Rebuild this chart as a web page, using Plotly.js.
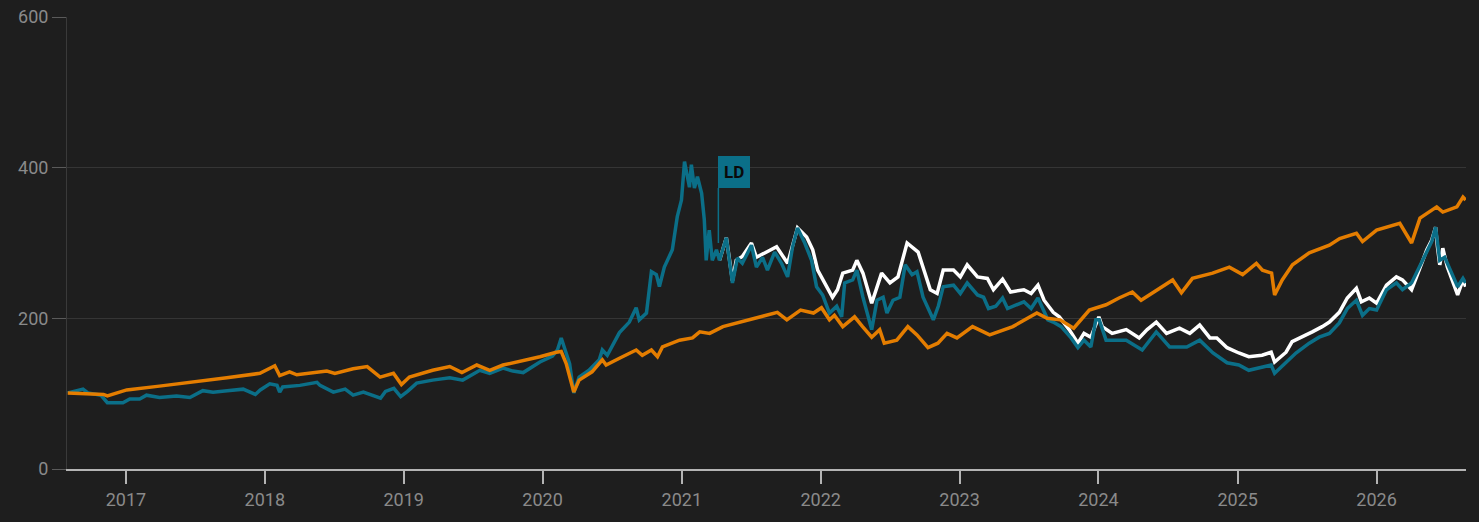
<!DOCTYPE html>
<html>
<head>
<meta charset="utf-8">
<script src="https://cdn.plot.ly/plotly-3.0.1.min.js"></script>
<style>
html,body{margin:0;padding:0;background:#1e1e1e;}
#chart{width:1479px;height:522px;}
</style>
</head>
<body>
<div id="chart"></div>
<script>
// Benchmark (orange)
const benchDates = ['2016-08-01','2016-09-23','2016-11-03','2016-11-13','2017-01-03','2017-03-30','2017-06-26','2017-09-23','2017-12-19','2018-01-27','2018-02-09','2018-03-07','2018-03-26','2018-06-13','2018-07-04','2018-08-21','2018-09-27','2018-10-31','2018-12-05','2018-12-26','2019-01-16','2019-03-18','2019-05-02','2019-06-03','2019-07-12','2019-08-15','2019-09-19','2019-10-26','2019-11-21','2019-12-25','2020-02-06','2020-02-19','2020-03-03','2020-03-16','2020-03-23','2020-04-06','2020-05-10','2020-06-06','2020-06-16','2020-07-21','2020-09-03','2020-09-19','2020-10-13','2020-10-29','2020-11-11','2020-12-26','2021-01-29','2021-02-17','2021-03-15','2021-04-19','2021-06-03','2021-07-18','2021-09-09','2021-10-04','2021-11-09','2021-12-13','2022-01-03','2022-01-24','2022-02-06','2022-02-28','2022-03-31','2022-04-21','2022-05-15','2022-06-05','2022-06-17','2022-07-20','2022-08-18','2022-09-11','2022-10-10','2022-11-05','2022-11-29','2022-12-25','2023-02-04','2023-03-21','2023-05-21','2023-07-23','2023-08-19','2023-09-22','2023-10-28','2023-12-08','2024-01-21','2024-02-24','2024-03-30','2024-04-22','2024-07-14','2024-08-06','2024-09-04','2024-10-27','2024-12-10','2025-01-14','2025-02-19','2025-03-07','2025-03-31','2025-04-08','2025-04-28','2025-05-25','2025-07-08','2025-08-30','2025-09-26','2025-11-09','2025-11-25','2026-01-01','2026-03-03','2026-04-03','2026-04-25','2026-06-08','2026-06-24','2026-07-31','2026-08-16','2026-08-23'];
const benchValues = [101,100,99,97,105,110,115,121,127,137,124,129,125,130,127,133,136,122,127,112,122,131,136,128,138,131,138,142,145,149,155,156,140,114,102,118,129,145,138,147,158,151,158,149,162,171,174,182,180,189,195,200,208,198,211,207,214,198,204,189,202,189,175,185,167,171,189,178,161,167,180,174,189,178,189,207,200,198,187,211,218,227,235,224,251,234,253,260,268,258,273,264,260,231,251,271,287,297,306,313,302,317,326,300,333,348,341,348,361,357];

// Fund (teal)
const fundDates = ['2016-08-01','2016-09-10','2016-09-23','2016-10-27','2016-11-13','2016-12-24','2017-01-11','2017-02-06','2017-02-24','2017-03-30','2017-05-14','2017-06-18','2017-07-22','2017-08-18','2017-09-24','2017-11-05','2017-12-07','2017-12-20','2018-01-14','2018-02-02','2018-02-09','2018-02-17','2018-04-03','2018-05-18','2018-05-26','2018-06-30','2018-07-31','2018-08-21','2018-09-17','2018-11-01','2018-11-14','2018-12-06','2018-12-24','2019-01-11','2019-02-04','2019-03-18','2019-05-02','2019-06-05','2019-07-20','2019-08-15','2019-09-19','2019-10-15','2019-11-11','2019-12-25','2020-01-27','2020-02-09','2020-02-19','2020-03-01','2020-03-12','2020-03-23','2020-04-06','2020-05-02','2020-05-29','2020-06-06','2020-06-19','2020-07-21','2020-08-16','2020-09-03','2020-09-11','2020-09-30','2020-10-13','2020-10-26','2020-11-03','2020-11-16','2020-12-07','2020-12-20','2020-12-31','2021-01-08','2021-01-21','2021-01-26','2021-02-03','2021-02-11','2021-02-22','2021-03-01','2021-03-06','2021-03-14','2021-03-22','2021-04-02','2021-04-10','2021-04-28','2021-05-14','2021-05-27','2021-06-09','2021-07-03','2021-07-16','2021-08-01','2021-08-14','2021-09-02','2021-09-20','2021-10-06','2021-10-19','2021-11-01','2021-11-20','2021-12-08','2021-12-21','2022-01-06','2022-01-24','2022-02-12','2022-02-25','2022-03-05','2022-03-26','2022-04-06','2022-04-22','2022-05-15','2022-05-29','2022-06-14','2022-06-24','2022-07-10','2022-07-28','2022-08-11','2022-08-29','2022-09-11','2022-09-27','2022-10-16','2022-10-24','2022-11-06','2022-11-19','2022-12-16','2023-01-03','2023-01-21','2023-02-17','2023-03-05','2023-03-18','2023-04-06','2023-04-24','2023-05-07','2023-06-19','2023-07-08','2023-07-26','2023-08-21','2023-09-04','2023-09-25','2023-10-21','2023-11-08','2023-11-24','2023-12-12','2023-12-25','2024-01-03','2024-01-21','2024-02-24','2024-03-14','2024-04-25','2024-06-01','2024-07-06','2024-08-20','2024-09-23','2024-10-28','2024-12-04','2025-01-04','2025-01-30','2025-03-06','2025-03-30','2025-04-08','2025-05-08','2025-06-03','2025-07-08','2025-08-03','2025-08-30','2025-09-25','2025-10-16','2025-11-09','2025-11-25','2025-12-13','2026-01-01','2026-01-27','2026-02-22','2026-03-10','2026-04-03','2026-04-16','2026-05-13','2026-05-26','2026-06-05','2026-06-16','2026-06-29','2026-07-18','2026-08-02','2026-08-16','2026-08-23'];
const fundValues = [101,106,101,98,88,88,93,93,98,95,97,95,104,102,104,106,99,105,113,111,102,109,111,115,111,102,106,98,102,94,103,107,96,103,114,118,121,118,131,127,134,130,128,142,150,158,174,158,140,101,122,131,145,158,151,181,195,214,198,207,262,258,242,268,291,335,357,408,374,404,373,388,366,331,277,317,277,291,277,307,247,280,273,297,268,281,264,288,273,255,295,320,300,277,242,231,207,216,202,247,251,264,228,185,224,228,207,224,228,271,258,262,228,207,198,216,242,244,233,247,231,228,213,216,227,213,222,213,227,198,195,189,174,161,171,162,198,198,171,171,171,158,182,162,162,171,154,141,138,131,135,138,127,142,154,167,175,180,194,213,224,204,213,211,238,247,238,247,260,287,302,321,277,281,260,242,253,247];

// Fund unadjusted (white), diverges after LD
const unadjDates = ['2021-04-10','2021-04-28','2021-05-14','2021-05-24','2021-06-09','2021-07-03','2021-07-16','2021-08-11','2021-09-07','2021-10-06','2021-11-01','2021-11-25','2021-12-11','2021-12-24','2022-01-16','2022-02-01','2022-02-14','2022-02-28','2022-03-26','2022-04-06','2022-04-22','2022-05-15','2022-06-10','2022-07-02','2022-07-23','2022-08-16','2022-09-14','2022-10-16','2022-11-03','2022-11-19','2022-12-16','2023-01-03','2023-01-21','2023-02-17','2023-03-15','2023-03-31','2023-04-24','2023-05-15','2023-06-19','2023-07-08','2023-07-26','2023-08-11','2023-09-04','2023-09-20','2023-10-16','2023-11-08','2023-11-24','2023-12-12','2024-01-02','2024-01-11','2024-02-06','2024-03-14','2024-04-17','2024-05-08','2024-06-01','2024-06-28','2024-08-01','2024-08-28','2024-09-23','2024-10-20','2024-11-07','2024-12-04','2025-01-04','2025-01-30','2025-03-06','2025-03-30','2025-04-08','2025-05-08','2025-05-24','2025-06-19','2025-07-16','2025-08-11','2025-08-30','2025-09-25','2025-10-16','2025-11-09','2025-11-22','2025-12-13','2026-01-01','2026-01-27','2026-02-22','2026-03-10','2026-04-03','2026-04-16','2026-05-13','2026-05-26','2026-06-05','2026-06-10','2026-06-16','2026-06-24','2026-07-06','2026-08-02','2026-08-16','2026-08-23'];
const unadjValues = [277,307,250,277,282,300,281,288,295,273,320,308,291,264,242,228,238,260,264,277,260,220,260,247,255,300,288,238,233,264,264,255,271,255,253,238,252,235,238,233,244,224,208,202,185,167,180,175,202,189,180,185,174,185,195,180,187,180,191,174,174,161,154,149,151,155,142,155,169,175,182,189,195,208,227,240,222,227,220,244,255,251,238,255,291,304,321,295,271,293,268,231,251,242];

const yTicks = [0,200,400,600];
const xTickVals = ['2017-01-01','2018-01-01','2019-01-01','2020-01-01','2021-01-01','2022-01-01','2023-01-01','2024-01-01','2025-01-01','2026-01-01'];
const xTickText = ['2017','2018','2019','2020','2021','2022','2023','2024','2025','2026'];
const ldDate = '2021-04-07';
const ldValue = 300;
const ldLabel = 'LD';

const teal = '#0b6f88';
const orange = '#e47d00';

const traces = [
  {x: unadjDates, y: unadjValues, type: 'scatter', mode: 'lines', line: {color: '#ffffff', width: 3.5}, hoverinfo: 'skip'},
  {x: fundDates, y: fundValues, type: 'scatter', mode: 'lines', line: {color: teal, width: 3.5}, hoverinfo: 'skip'},
  {x: benchDates, y: benchValues, type: 'scatter', mode: 'lines', line: {color: orange, width: 3.5}, hoverinfo: 'skip'}
];

const layout = {
  width: 1479, height: 522,
  paper_bgcolor: '#1e1e1e', plot_bgcolor: '#1e1e1e',
  margin: {l: 67, r: 13, t: 17, b: 53},
  showlegend: false,
  font: {family: 'Roboto, sans-serif', color: '#8a8a8a', size: 18},
  xaxis: {
    type: 'date',
    range: ['2016-07-30', '2026-08-24'],
    tickvals: xTickVals, ticktext: xTickText,
    showgrid: false, zeroline: false,
    showline: true, linecolor: '#b4b4b4', linewidth: 2,
    ticks: 'outside', ticklen: 13, tickcolor: '#b4b4b4', tickwidth: 2,
    tickfont: {size: 18, color: '#8a8a8a'}
  },
  yaxis: {
    range: [0, 600], tickvals: yTicks,
    showgrid: true, gridcolor: '#353535', gridwidth: 1,
    zeroline: false,
    showline: true, linecolor: '#3a3a3a', linewidth: 1,
    ticks: 'outside', ticklen: 14, tickcolor: '#5a5a5a', tickwidth: 1,
    tickfont: {size: 18, color: '#8a8a8a'}
  },
  annotations: [{
    x: ldDate, y: ldValue, xref: 'x', yref: 'y',
    text: '<b>' + ldLabel + '</b>',
    showarrow: true, arrowhead: 0, arrowwidth: 1.5, arrowcolor: teal,
    ax: 0, ay: -55, standoff: 0,
    xanchor: 'left', yanchor: 'bottom',
    bgcolor: teal, borderpad: 6, borderwidth: 0,
    font: {family: 'Roboto, sans-serif', size: 17, color: '#0a0a0a'}
  }]
};

Plotly.newPlot('chart', traces, layout, {staticPlot: true, displayModeBar: false});
</script>
</body>
</html>
